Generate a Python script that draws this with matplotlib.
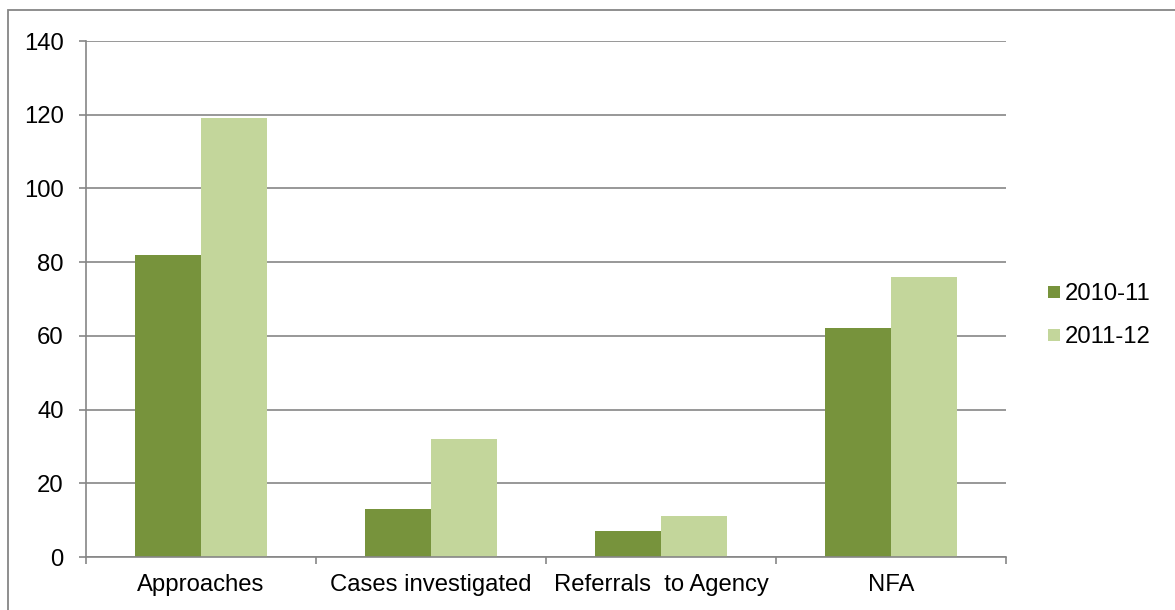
import matplotlib
matplotlib.use("Agg")
import matplotlib.pyplot as plt
from matplotlib.patches import Rectangle
import numpy as np

categories = ["Approaches", "Cases investigated", "Referrals  to Agency", "NFA"]
series_names = ["2010-11", "2011-12"]
values_2010_11 = [82, 13, 7, 62]
values_2011_12 = [119, 32, 11, 76]
yticks = [0, 20, 40, 60, 80, 100, 120, 140]

colors = ["#77933C", "#C3D69B"]
grid_c = "#868686"

plt.rcParams['font.family'] = ['Liberation Sans', 'DejaVu Sans']
FS = 17.2

W, H = 1175, 610
fig = plt.figure(figsize=(W / 100, H / 100), dpi=100)
ax = fig.add_axes([86 / W, 1 - 557 / H, (1006 - 86) / W, (557 - 41) / H])

x = np.arange(len(categories))
bw = 66 / 230
ax.bar(x - bw / 2, values_2010_11, width=bw, color=colors[0], zorder=3)
ax.bar(x + bw / 2, values_2011_12, width=bw, color=colors[1], zorder=3)

ax.set_xlim(-0.5, len(categories) - 0.5)
ax.set_ylim(0, 140)
ax.set_yticks(yticks)
ax.set_yticklabels([str(v) for v in yticks])
ax.set_xticks(x)
ax.set_xticklabels(categories)
ax.set_xticks(np.arange(len(categories) + 1) - 0.5, minor=True)

ax.grid(axis='y', color=grid_c, linewidth=1.2, zorder=0)
for s in ['top', 'right']:
    ax.spines[s].set_visible(False)
for s in ['left', 'bottom']:
    ax.spines[s].set_color(grid_c)
    ax.spines[s].set_linewidth(1.2)
    ax.spines[s].set_zorder(4)

ax.tick_params(axis='y', which='major', length=5, width=1.2, color=grid_c,
               pad=11, labelsize=FS, labelcolor='black')
ax.tick_params(axis='x', which='major', length=0, pad=12, labelsize=FS,
               labelcolor='black')
ax.tick_params(axis='x', which='minor', length=5, width=1.2, color=grid_c)

# outer chart border
fig.patches.append(Rectangle((8 / W, -0.1), 1.2, 1 - 10 / H + 0.1,
                             transform=fig.transFigure, fill=False,
                             edgecolor=grid_c, linewidth=1.3))

# legend
leg_y = [292, 334.5]
for name, c, yc in zip(series_names, colors, leg_y):
    fig.patches.append(Rectangle((1048 / W, 1 - (yc + 6) / H), 12 / W, 12 / H,
                                 transform=fig.transFigure, facecolor=c,
                                 edgecolor='none'))
    fig.text(1065 / W, 1 - yc / H, name, fontsize=FS, va='center_baseline',
             ha='left', color='black')

fig.savefig("out.png", dpi=100)
